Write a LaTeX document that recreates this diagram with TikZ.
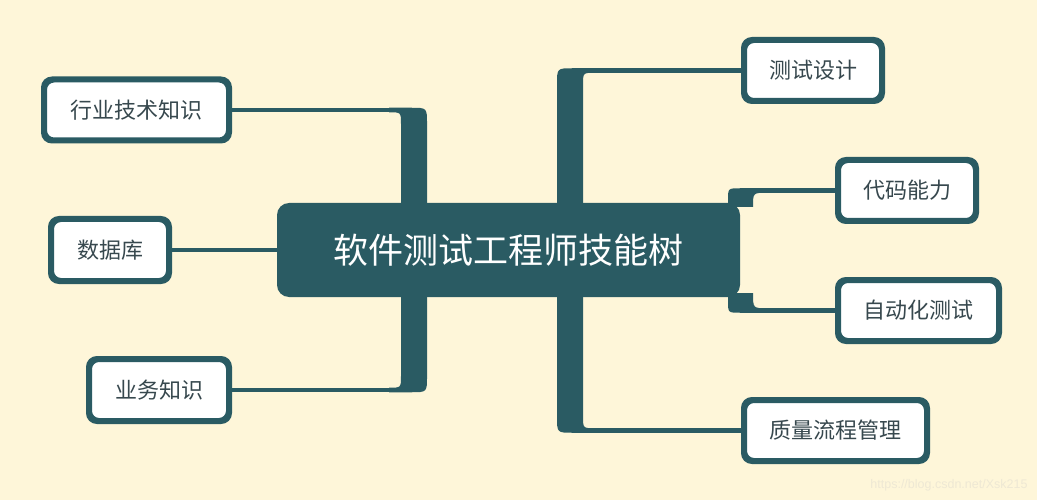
\documentclass[tikz,border=0pt]{standalone}
\usepackage{fontspec}
\setmainfont{Noto Sans CJK SC}
\definecolor{bgc}{RGB}{254,246,217}
\definecolor{teal}{RGB}{42,91,99}
\definecolor{txt}{RGB}{55,72,78}
\definecolor{wm}{RGB}{238,232,212}
\begin{document}
\begin{tikzpicture}[x=1pt,y=-1pt,
  leaf/.style={draw=teal, line width=4pt, fill=white, rounded corners=9pt,
    minimum height=59pt, inner sep=0pt, text=txt,
    font=\fontsize{22}{26}\selectfont},
  hub/.style={fill=teal, rounded corners=12pt, minimum width=463pt,
    minimum height=94pt, inner sep=0pt, text=white,
    font=\fontsize{35}{40}\selectfont},
  twig/.style={draw=teal, line width=4.5pt},
  trunk/.style={fill=teal}]
\fill[bgc] (0,0) rectangle (1037,500);
\useasboundingbox (0,0) rectangle (1037,500);

% trunk junction coordinates
\coordinate (lt) at (395,0);
\coordinate (rt) at (590,0);
\coordinate (st) at (762,0);

% leaves
\node[leaf, minimum width=183pt] (hy) at (136.5,110) {行业技术知识};
\node[leaf, minimum width=116pt, minimum height=60pt] (db) at (110,250) {数据库};
\node[leaf, minimum width=138pt, minimum height=60pt] (yw) at (159,390) {业务知识};
\node[leaf, minimum width=136pt] (cs) at (813,70.5) {测试设计};
\node[leaf, minimum width=136pt] (dm) at (907,190.5) {代码能力};
\node[leaf, minimum width=159pt] (zd) at (918.5,310.5) {自动化测试};
\node[leaf, minimum width=181pt] (zl) at (835.5,430.5) {质量流程管理};

% trunks
\fill[trunk] (427,204) -- (427,123.75) .. controls (427,107.75) .. (411,107.75) -- (389,107.75) -- (389,112.25) .. controls (401,112.25) .. (401,124.25) -- (401,204) -- cycle;
\fill[trunk] (427,296) -- (427,376.25) .. controls (427,392.25) .. (411,392.25) -- (389,392.25) -- (389,387.75) .. controls (401,387.75) .. (401,375.75) -- (401,296) -- cycle;
\fill[trunk] (557,204) -- (557,84.25) .. controls (557,68.25) .. (573,68.25) -- (595,68.25) -- (595,72.75) .. controls (583,72.75) .. (583,84.75) -- (583,204) -- cycle;
\fill[trunk] (557,296) -- (557,416.75) .. controls (557,432.75) .. (573,432.75) -- (595,432.75) -- (595,428.25) .. controls (583,428.25) .. (583,416.25) -- (583,296) -- cycle;
\fill[trunk] (728,207) -- (728,200.25) .. controls (728,188.25) .. (740,188.25) -- (767,188.25) -- (767,192.75) .. controls (753,192.75) .. (753,207) -- cycle;
\fill[trunk] (728,293) -- (728,300.75) .. controls (728,312.75) .. (740,312.75) -- (767,312.75) -- (767,308.25) .. controls (753,308.25) .. (753,293) -- cycle;

% twigs
\draw[twig] (hy.east) -- (hy.east -| lt);
\draw[twig] (yw.east) -- (yw.east -| lt);
\draw[twig] (cs.west) -- (cs.west -| rt);
\draw[twig] (zl.west) -- (zl.west -| rt);
\draw[twig] (dm.west) -- (dm.west -| st);
\draw[twig] (zd.west) -- (zd.west -| st);

% hub
\node[hub] (c) at (508.5,250) {软件测试工程师技能树};
\draw[twig] (db.east) -- (c.west);

% redraw leaf borders on top of twigs
\foreach \n in {hy,db,yw,cs,dm,zd,zl} {\draw[teal, line width=4pt, rounded corners=9pt] (\n.south west) rectangle (\n.north east);}

\node[text=wm, font=\fontsize{12.5}{14}\selectfont\fontspec{Liberation Sans}, anchor=east] (wmk) at (1031,485) {https://blog.csdn.net/Xsk215};
\end{tikzpicture}
\end{document}
